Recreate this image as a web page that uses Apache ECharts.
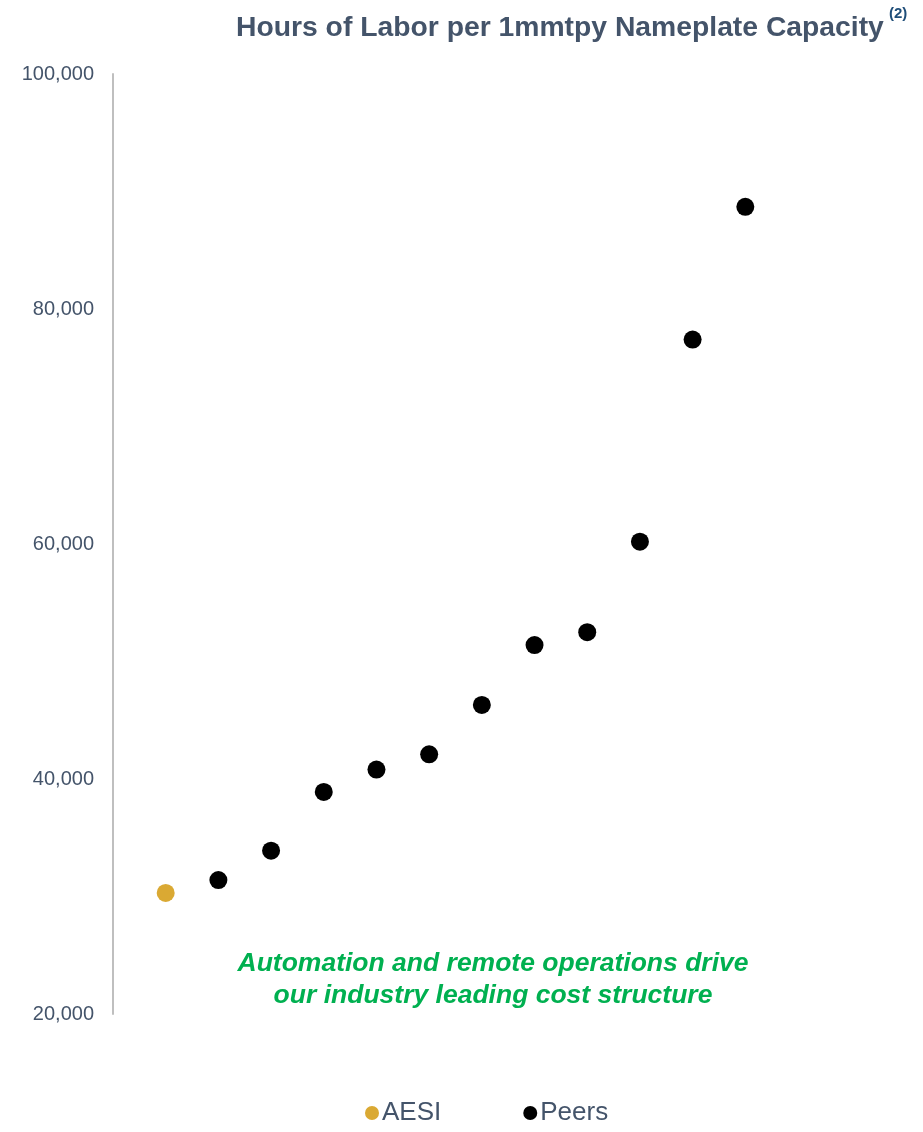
<!DOCTYPE html>
<html>
<head>
<meta charset="utf-8">
<script src="https://cdn.jsdelivr.net/npm/echarts@6/dist/echarts.min.js"></script>
<style>
  html, body { margin: 0; padding: 0; background: #fff; }
  #chart { width: 923px; height: 1132px; }
</style>
</head>
<body>
<div id="chart"></div>
<script>
// Hours of labor per 1 mmtpy of nameplate capacity, ranked from lowest to highest
const aesiValues = [30300];
const peerValues = [31400, 33900, 38900, 40800, 42100, 46300, 51400, 52500, 60200, 77400, 88700];
const yTicks = [20000, 40000, 60000, 80000, 100000];
const seriesNames = ['AESI', 'Peers'];

const slate = '#44546A';

// AESI sits at rank 1, peers follow at ranks 2..n
const aesiData = aesiValues.map((v, i) => [i + 1, v]);
const peerData = peerValues.map((v, i) => [aesiValues.length + i + 1, v]);
const rankCount = aesiValues.length + peerValues.length + 1;

const chart = echarts.init(document.getElementById('chart'), null, { renderer: 'canvas' });

chart.setOption({
  backgroundColor: '#ffffff',
  animation: false,
  grid: { left: 113, right: 125, top: 74, bottom: 118, containLabel: false },
  xAxis: {
    type: 'value',
    min: 0,
    max: rankCount,
    show: false
  },
  yAxis: {
    type: 'value',
    min: yTicks[0],
    max: yTicks[yTicks.length - 1],
    interval: yTicks[1] - yTicks[0],
    axisLine: { show: true, lineStyle: { color: '#BFBFBF', width: 2 } },
    axisTick: { show: false },
    splitLine: { show: false },
    axisLabel: {
      margin: 19,
      color: slate,
      fontSize: 20,
      fontFamily: 'Liberation Sans, Arial, sans-serif',
      formatter: v => v.toLocaleString('en-US')
    }
  },
  legend: {
    left: 360,
    top: 1095,
    itemGap: 82,
    itemWidth: 14,
    itemHeight: 14,
    icon: 'circle',
    textStyle: {
      color: slate,
      fontSize: 26,
      fontFamily: 'Liberation Sans, Arial, sans-serif',
      padding: [0, 0, 0, -2]
    },
    data: seriesNames
  },
  graphic: [
    {
      type: 'text',
      left: 236,
      top: 14,
      style: {
        text: 'Hours of Labor per 1mmtpy Nameplate Capacity',
        fill: slate,
        font: 'bold 28.3px "Liberation Sans", Arial, sans-serif'
      }
    },
    {
      type: 'text',
      left: 889,
      top: 6,
      style: {
        text: '(2)',
        fill: '#1F4E79',
        font: 'bold 15px "Liberation Sans", Arial, sans-serif'
      }
    },
    {
      type: 'text',
      x: 493,
      y: 980,
      style: {
        text: 'Automation and remote operations drive\nour industry leading cost structure',
        fill: '#00B050',
        align: 'center',
        verticalAlign: 'middle',
        lineHeight: 32,
        font: 'italic bold 26.5px "Liberation Sans", Arial, sans-serif'
      }
    }
  ],
  series: [
    {
      name: seriesNames[0],
      type: 'scatter',
      symbol: 'circle',
      symbolSize: 18,
      itemStyle: { color: '#DAA933', opacity: 1 },
      data: aesiData
    },
    {
      name: seriesNames[1],
      type: 'scatter',
      symbol: 'circle',
      symbolSize: 18,
      itemStyle: { color: '#000000', opacity: 1 },
      data: peerData
    }
  ]
});
</script>
</body>
</html>
